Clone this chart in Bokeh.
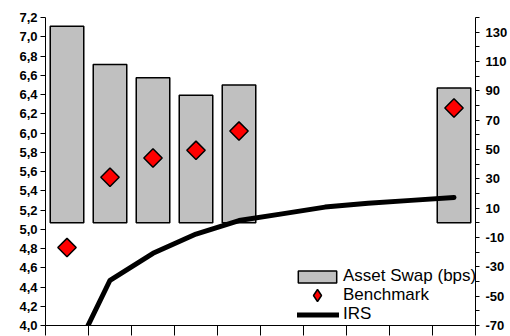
from bokeh.plotting import figure
from bokeh.models import (Range1d, LinearAxis, FixedTicker, ColumnDataSource, Legend,
                          LegendItem, CustomJSTickFormatter)
from bokeh.embed import file_html
from bokeh.resources import INLINE

# ---- data ----
categories = ["1", "2", "3", "4", "5", "6", "7", "8", "9", "10"]
asset_swap_bps = [134, 108, 99, 87, 94, None, None, None, None, 92]
benchmark = [4.81, 5.54, 5.74, 5.82, 6.02, None, None, None, None, 6.26]
irs = [3.55, 4.47, 4.75, 4.95, 5.09, 5.16, 5.23, 5.27, 5.30, 5.33]
left_ticks = [4.0, 4.2, 4.4, 4.6, 4.8, 5.0, 5.2, 5.4, 5.6, 5.8, 6.0, 6.2, 6.4, 6.6, 6.8, 7.0, 7.2]
right_ticks = [-70, -50, -30, -10, 10, 30, 50, 70, 90, 110, 130]
right_minor_ticks = [-60, -40, -20, 0, 20, 40, 60, 80, 100, 120, 140]

xpos = [i + 0.5 for i in range(len(categories))]
bar_x = [x for x, v in zip(xpos, asset_swap_bps) if v is not None]
bar_v = [v for v in asset_swap_bps if v is not None]
bm_x = [x for x, v in zip(xpos, benchmark) if v is not None]
bm_v = [v for v in benchmark if v is not None]

bar_src = ColumnDataSource(dict(x=bar_x, top=bar_v))
bm_src = ColumnDataSource(dict(x=bm_x, y=bm_v))
irs_src = ColumnDataSource(dict(x=xpos, y=irs))

p = figure(width=510, height=336, output_backend="svg", toolbar_location=None,
           x_range=Range1d(0, len(categories)), y_range=Range1d(4.0, 7.2),
           min_border_left=45, min_border_right=31, min_border_top=17, min_border_bottom=11,
           x_axis_location=None, y_axis_location=None)
p.extra_y_ranges = {"right": Range1d(-70, 140)}
p.outline_line_color = None
p.xgrid.visible = False
p.ygrid.visible = False
p.background_fill_color = "white"
p.border_fill_color = "white"

FONT = "Liberation Sans"

# bars (right axis)
bars = p.vbar(x="x", top="top", bottom=0, width=0.78, source=bar_src, y_range_name="right",
              fill_color="#C0C0C0", line_color="black", line_width=1.5)
# IRS line
irs_r = p.line(x="x", y="y", source=irs_src, line_color="black", line_width=5,
               line_join="round", line_cap="round")
# benchmark diamonds
bm_r = p.scatter(x="x", y="y", source=bm_src, marker="square", angle=45, angle_units="deg",
                 size=13, fill_color="red", line_color="black", line_width=1.5)
# legend-only key for the benchmark (a single undrawable NaN point)
bm_key = p.scatter(x="x", y="y", source=ColumnDataSource(dict(x=[float("nan")], y=[float("nan")])),
                   marker="diamond", fill_color="red", line_color="black", line_width=1.5)

fmt_left = CustomJSTickFormatter(code="return tick.toFixed(1).replace('.', ',');")
fmt_right = CustomJSTickFormatter(code="return tick.toFixed(0);")

left = LinearAxis(ticker=FixedTicker(ticks=left_ticks, minor_ticks=[]), formatter=fmt_left)
left.major_tick_out = 5
left.major_tick_in = 0
left.minor_tick_out = 0
left.major_label_standoff = 3
left.major_label_text_font = FONT
left.major_label_text_font_style = "bold"
left.major_label_text_font_size = "13px"
left.major_label_text_color = "black"
left.axis_line_color = "black"
left.major_tick_line_color = "black"
p.add_layout(left, "left")

right = LinearAxis(y_range_name="right", formatter=fmt_right,
                   ticker=FixedTicker(ticks=right_ticks, minor_ticks=right_minor_ticks))
right.major_tick_out = 4
right.major_tick_in = 0
right.minor_tick_out = 4
right.minor_tick_in = 0
right.major_label_standoff = 6
right.major_label_text_font = FONT
right.major_label_text_font_style = "bold"
right.major_label_text_font_size = "13px"
right.major_label_text_color = "black"
right.axis_line_color = "black"
right.major_tick_line_color = "black"
right.minor_tick_line_color = "black"
p.add_layout(right, "right")

bottom = LinearAxis(ticker=FixedTicker(ticks=list(range(len(categories) + 1)), minor_ticks=[]),
                    formatter=CustomJSTickFormatter(code="return '';"))
bottom.major_tick_out = 10
bottom.major_tick_in = 0
bottom.minor_tick_out = 0
bottom.major_label_standoff = 0
bottom.major_label_text_font_size = "1px"
bottom.axis_line_color = "black"
bottom.major_tick_line_color = "black"
p.add_layout(bottom, "below")

common = dict(padding=0, margin=0, spacing=0, border_line_color=None, background_fill_alpha=0,
              label_text_font=FONT, label_text_font_size="17px", label_text_color="black",
              label_height=19)

leg_a = Legend(items=[LegendItem(label="Asset Swap (bps)", renderers=[bars])],
               location=(248, 39), glyph_width=48, glyph_height=15, label_standoff=2, **common)
leg_b = Legend(items=[LegendItem(label="Benchmark", renderers=[bm_key])],
               location=(248, 15), glyph_width=48, glyph_height=30, label_standoff=2, **common)
leg_c = Legend(items=[LegendItem(label="IRS", renderers=[irs_r])],
               location=(252, 1), glyph_width=42, glyph_height=15, label_standoff=4, **common)
p.add_layout(leg_a)
p.add_layout(leg_b)
p.add_layout(leg_c)

open("out.html", "w").write(file_html(p, INLINE))
